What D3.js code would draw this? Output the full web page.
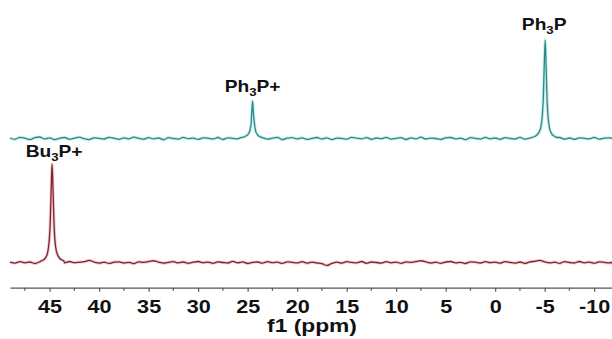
<!DOCTYPE html>
<html>
<head>
<meta charset="utf-8">
<script src="https://cdn.jsdelivr.net/npm/d3@7"></script>
<style>
	body { margin: 0; background: #ffffff; }
	svg { display: block; }
	text { font-family: "Liberation Sans", Arial, sans-serif; font-weight: bold; fill: #111111; }
</style>
</head>
<body>
<svg id="chart" width="612" height="339"></svg>
<script>
//31P NMR spectra, two stacked traces

var WIDTH = 612;
var HEIGHT = 339;
var TEXT_STRETCH = 1.2;

// chemical shift grid of the baseline (ppm, 0.5 ppm step, 49 .. -12)
var gridPpm = d3.range(49, -12.01, -0.5);

// baseline noise (intensity units, peak = 100)
var tealNoise = [0.5,-0.8,1.2,0.3,-1.0,0.8,1.5,-0.4,0.6,-1.2,0.2,1.0,-0.6,0.4,1.3,-0.2,-1.1,0.7,0.1,-0.5,
	1.1,0.3,-0.9,0.6,-0.3,1.4,0.2,-0.7,0.9,-0.4,0.5,-1.3,0.8,0.0,-0.6,1.2,-0.2,0.4,-0.9,0.7,
	0.3,-0.5,1.0,-1.0,0.6,0.2,-0.4,1.3,-0.8,0.5,-0.1,0.9,-0.6,0.3,1.1,-1.2,0.4,0.8,-0.3,0.6,
	-0.9,0.2,1.0,-0.5,0.7,-1.1,0.4,0.1,-0.7,1.2,0.3,-0.4,0.9,-0.8,0.5,-0.2,1.1,-0.6,0.2,0.8,
	-1.0,0.6,-0.3,1.3,-0.5,0.4,0.0,-0.9,0.7,1.0,-0.4,0.3,-1.2,0.8,0.2,-0.6,1.1,-0.3,0.5,-0.8,
	0.9,0.1,-0.5,1.2,-0.7,0.4,0.6,-1.0,0.3,0.8,-0.2,1.0,-0.6,0.5,-0.9,0.7,0.2,-0.4,1.1,-0.7,
	0.3,0.6,-0.2];

var redNoise = [0.4,-0.6,0.9,-0.3,0.5,-1.0,0.7,0.2,-0.8,0.3,0.6,-0.4,1.0,-0.2,0.3,0.8,2.2,0.5,-0.6,0.4,
	-0.9,0.3,0.7,-0.5,0.2,-1.1,0.6,0.1,0.9,1.8,0.4,-0.7,0.2,0.8,-0.4,0.5,-0.9,0.3,1.0,-0.2,
	0.4,-0.8,0.6,0.0,-0.5,1.1,-0.3,0.7,-1.0,0.2,0.5,-0.6,0.9,-0.2,0.3,-0.9,0.6,0.1,-0.4,0.8,
	-0.7,0.3,-0.5,-1.2,-3.0,-1.0,0.4,-0.6,0.8,0.2,-0.4,1.0,-0.8,0.5,0.0,-0.6,0.9,-0.3,0.4,-0.9,
	0.6,0.2,0.9,1.8,0.7,-0.5,0.3,-0.8,0.5,1.0,-0.4,0.2,-1.0,0.7,0.3,-0.5,0.8,-0.2,0.4,-0.7,
	0.9,0.1,-0.6,0.5,-0.9,0.7,1.2,2.2,0.6,-0.4,0.3,-0.8,0.8,0.0,-0.5,1.0,-0.3,0.4,-0.7,0.6,
	0.2,-0.4,0.5];

// peaks: ppm / intensity pairs
var ph3pPpm = [-3.85,-4.15,-4.4,-4.6,-4.75,-4.85,-4.95,-5.05,-5.15,-5.25,-5.35,-5.5,-5.7,-5.95,-6.25];
var ph3pInt = [1.5,3,6,11,22,38,72,100,70,37,21,10,5,2.5,1];

var ph3pPlusPpm = [25.7,25.4,25.1,24.9,24.75,24.65,24.58,24.5,24.42,24.3,24.2,24.05,23.8,23.5];
var ph3pPlusInt = [1,1.5,3,5,9,15,27,38,26,14,8,4.5,2,1];

var bu3pPlusPpm = [45.95,45.65,45.4,45.2,45.05,44.95,44.85,44.75,44.65,44.55,44.45,44.3,44.1,43.85,43.55];
var bu3pPlusInt = [1,2.5,5,10,21,37,70,100,72,38,21,11,6,3,1.5];

// axis
var majorTicks = [45,40,35,30,25,20,15,10,5,0,-5,-10];
var minorTicks = [47.5,42.5,37.5,32.5,27.5,22.5,17.5,12.5,7.5,2.5,-2.5,-7.5];
var axisLabel = "f1 (ppm)";

// peak labels: [before subscript, subscript, after subscript, ppm]
var peakLabels = [
	{ top: "Ph", sub: "3", tail: "P", ppm: -5.05, trace: "teal", dy: -10, dx: -1 },
	{ top: "Ph", sub: "3", tail: "P+", ppm: 24.5, trace: "teal", dy: -9, dx: 0 },
	{ top: "Bu", sub: "3", tail: "P+", ppm: 44.75, trace: "red", dy: -7, dx: 2 }
];

var TEAL = "#218f8c";
var RED = "#8c1d2c";

var svg = d3.select("#chart");

var x = d3.scaleLinear()
	.domain([49, -12])
	.range([10, 614]);

// one intensity scale per trace, peak height ~98px
var yTeal = d3.scaleLinear().domain([0, 100]).range([138.5, 40]);
var yRed = d3.scaleLinear().domain([0, 100]).range([262.5, 164]);

function buildTrace(noise, peaks) {
	var pts = [];
	gridPpm.forEach(function(p, i) {
		var nearPeak = peaks.some(function(pk) {
			return Math.abs(p - pk.center) < 1.25;
		});
		if (!nearPeak) pts.push({ ppm: p, v: noise[i] });
	});
	peaks.forEach(function(pk) {
		pk.ppm.forEach(function(p, i) {
			pts.push({ ppm: p, v: pk.int[i] });
		});
	});
	pts.sort(function(a, b) { return b.ppm - a.ppm; });
	return pts;
}

var tealData = buildTrace(tealNoise, [
	{ center: -5.05, ppm: ph3pPpm, int: ph3pInt },
	{ center: 24.5, ppm: ph3pPlusPpm, int: ph3pPlusInt }
]);
var redData = buildTrace(redNoise, [
	{ center: 44.75, ppm: bu3pPlusPpm, int: bu3pPlusInt }
]);

function drawTrace(data, y, color) {
	var line = d3.line()
		.x(function(d) { return x(d.ppm); })
		.y(function(d) { return y(d.v); })
		.curve(d3.curveMonotoneX);

	//soft halo round the trace
	svg.append("path")
		.datum(data)
		.attr("fill", "none")
		.attr("stroke", color)
		.attr("stroke-opacity", 0.2)
		.attr("stroke-width", 3.2)
		.attr("stroke-linejoin", "round")
		.attr("d", line);

	svg.append("path")
		.datum(data)
		.attr("fill", "none")
		.attr("stroke", color)
		.attr("stroke-width", 1.3)
		.attr("stroke-linejoin", "round")
		.attr("d", line);
}

drawTrace(tealData, yTeal, TEAL);
drawTrace(redData, yRed, RED);

//peak labels
peakLabels.forEach(function(d) {
	var y = d.trace === "teal" ? yTeal : yRed;
	var peakInt = d.trace === "teal"
		? (d.tail === "P" ? d3.max(ph3pInt) : d3.max(ph3pPlusInt))
		: d3.max(bu3pPlusInt);
	var t = svg.append("text")
		.attr("transform", "translate(" + (x(d.ppm) + d.dx) + "," + (y(peakInt) + d.dy) + ") scale(" + TEXT_STRETCH + ",1)")
		.attr("text-anchor", "middle")
		.style("font-size", "16px");
	t.append("tspan").text(d.top);
	t.append("tspan").attr("dy", 4).style("font-size", "11px").text(d.sub);
	t.append("tspan").attr("dy", -4).text(d.tail);
});

//x axis
var AXIS_Y = 287.7;
var axisG = svg.append("g")
	.attr("transform", "translate(0," + AXIS_Y + ")");

axisG.call(d3.axisBottom(x)
	.tickValues(majorTicks)
	.tickSize(4)
	.tickSizeOuter(0)
	.tickFormat(d3.format("d")));

axisG.select(".domain").attr("stroke", "#555555").attr("stroke-width", 1.2);
axisG.selectAll(".tick line").attr("stroke", "#555555").attr("stroke-width", 1.2);
axisG.selectAll(".tick text")
	.attr("y", null)
	.attr("dy", null)
	.attr("fill", "#111111")
	.attr("transform", "translate(0,25.5) scale(" + TEXT_STRETCH + ",1)")
	.style("font-family", "'Liberation Sans', Arial, sans-serif")
	.style("font-weight", "bold")
	.style("font-size", "18px")
	.text(function(d) { return d < 0 ? "-" + Math.abs(d) : d; });

axisG.selectAll(".minorTick")
	.data(minorTicks)
	.enter()
	.append("line")
	.attr("class", "minorTick")
	.attr("x1", function(d) { return x(d); })
	.attr("x2", function(d) { return x(d); })
	.attr("y1", 0)
	.attr("y2", 3)
	.attr("stroke", "#555555")
	.attr("stroke-width", 1.2);

svg.append("text")
	.attr("transform", "translate(312,332) scale(" + TEXT_STRETCH + ",1)")
	.attr("text-anchor", "middle")
	.style("font-size", "19px")
	.text(axisLabel);
</script>
</body>
</html>
